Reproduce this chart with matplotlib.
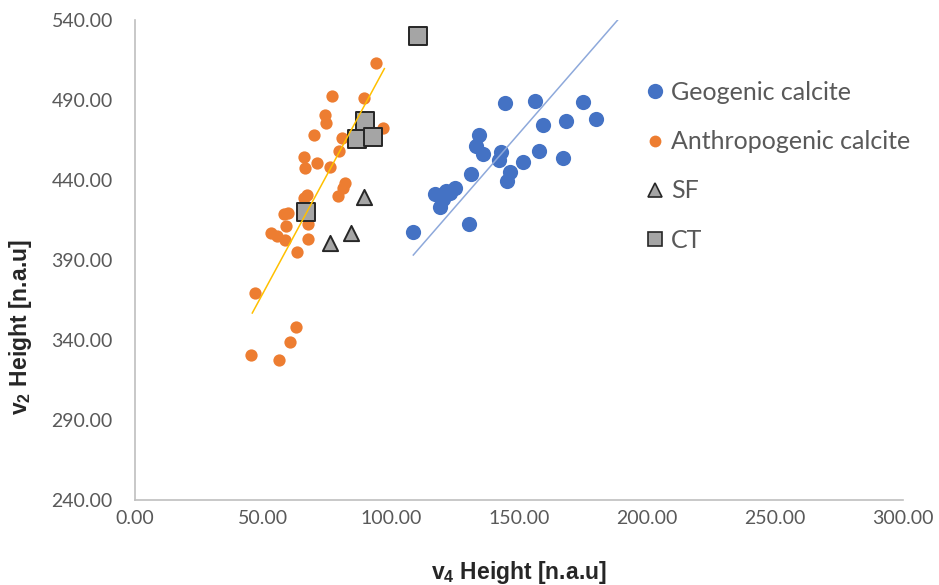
import matplotlib
matplotlib.use("Agg")
import matplotlib.pyplot as plt
from matplotlib.lines import Line2D
import numpy as np

plt.rcParams['font.family'] = ['Lato', 'DejaVu Sans']
plt.rcParams['mathtext.fontset'] = 'custom'
plt.rcParams['mathtext.rm'] = 'Liberation Sans'
plt.rcParams['mathtext.bf'] = 'Liberation Sans:bold'

# v4 / v2 peak heights per group
geo_x = [144.5, 156.4, 174.9, 180.1, 168.4, 159.5, 134.5, 133.2, 136.1, 143.0,
         142.3, 157.9, 151.4, 167.3, 146.5, 145.4, 131.3, 125.0, 123.0, 117.2,
         120.2, 119.1, 130.5, 108.7, 121.5]
geo_y = [488.1, 489.4, 488.7, 478.3, 476.8, 474.3, 468.2, 461.5, 456.3, 457.3,
         452.5, 458.4, 451.1, 453.6, 444.8, 439.1, 443.8, 435.0, 431.6, 431.2,
         428.1, 423.2, 412.4, 407.7, 433.0]

anth_x = [94.0, 77.1, 89.5, 74.1, 74.6, 97.0, 70.0, 80.9, 79.7, 66.0,
          71.0, 66.5, 76.0, 81.9, 81.3, 79.2, 67.1, 66.0, 59.8, 58.2,
          59.0, 53.0, 55.3, 58.6, 67.5, 63.4, 47.0, 63.0, 60.4, 45.4,
          56.1, 67.7]
anth_y = [513.2, 492.3, 491.5, 480.6, 475.5, 472.2, 468.2, 466.4, 458.0, 454.6,
          450.4, 447.5, 448.4, 437.9, 434.8, 430.1, 430.8, 428.7, 419.3, 418.5,
          411.1, 406.9, 405.0, 402.3, 403.0, 395.0, 369.3, 348.1, 338.7, 330.8,
          327.4, 412.4]

sf_x = [76.3, 84.3, 89.3]
sf_y = [400.7, 407.1, 429.5]

ct_x = [66.8, 86.8, 89.8, 92.8, 110.5]
ct_y = [419.7, 465.5, 476.8, 467.0, 530.0]

# linear trendlines: slope, intercept, x-range
geo_fit = [1.84, 193.1]
geo_fit_x = [108.7, 188.8]
anth_fit = [2.96, 221.3]
anth_fit_x = [45.8, 97.4]

blue = '#4472C4'
orange = '#ED7D31'
grey = '#A5A5A5'

fig = plt.figure(figsize=(9.39, 5.85), dpi=100)
ax = fig.add_axes([0.1438, 0.1453, 0.8179, 0.8205])

ax.scatter(geo_x, geo_y, s=120, color=blue, linewidths=0, zorder=2)
ax.scatter(anth_x, anth_y, s=78, color=orange, linewidths=0, zorder=3)
ax.scatter(sf_x, sf_y, s=120, marker='^', color=grey, edgecolors='#262626',
           linewidths=1.4, zorder=4)
ax.scatter(ct_x, ct_y, s=150, marker='s', color=grey, edgecolors='#262626',
           linewidths=1.4, zorder=5)

gx = np.array(geo_fit_x)
ax.plot(gx, geo_fit[0] * gx + geo_fit[1], color='#8EA9DB', lw=1.1, zorder=6)
axx = np.array(anth_fit_x)
ax.plot(axx, anth_fit[0] * axx + anth_fit[1], color='#FFC000', lw=1.1, zorder=6)

ax.set_xlim(0, 300)
ax.set_ylim(240, 540)
ax.set_xticks(np.arange(0, 301, 50))
ax.set_yticks(np.arange(240, 541, 50))
ax.xaxis.set_major_formatter(matplotlib.ticker.FormatStrFormatter('%.2f'))
ax.yaxis.set_major_formatter(matplotlib.ticker.FormatStrFormatter('%.2f'))
ax.tick_params(length=0, labelsize=14, labelcolor='#595959')
ax.tick_params(axis='x', pad=7)
ax.tick_params(axis='y', pad=16)
for side in ['top', 'right']:
    ax.spines[side].set_visible(False)
for side in ['left', 'bottom']:
    ax.spines[side].set_color('#BFBFBF')
    ax.spines[side].set_linewidth(1.2)

label_font = dict(fontsize=16.5, fontweight='bold', color='#262626',
                  family='Liberation Sans')
ax.set_xlabel(r'$\mathbf{v_4}$ Height [n.a.u]', **label_font)
ax.set_ylabel(r'$\mathbf{v_2}$ Height [n.a.u]', **label_font)
ax.xaxis.set_label_coords(0.5, -0.123)
ax.yaxis.set_label_coords(-0.131, 0.36)

handles = [
    Line2D([], [], ls='none', marker='o', ms=11, color=blue, mew=0),
    Line2D([], [], ls='none', marker='o', ms=8.5, color=orange, mew=0),
    Line2D([], [], ls='none', marker='^', ms=10, color=grey, mec='#262626', mew=1.2),
    Line2D([], [], ls='none', marker='s', ms=10, color=grey, mec='#262626', mew=1.2),
]
labels = ['Geogenic calcite', 'Anthropogenic calcite', 'SF', 'CT']
fig.legend(handles, labels, loc='upper left', bbox_to_anchor=(0.663, 0.9),
           frameon=False, fontsize=18, labelcolor='#595959', handlelength=0.8,
           handletextpad=0.25, labelspacing=1.05)

fig.savefig('out.png', dpi=100)
